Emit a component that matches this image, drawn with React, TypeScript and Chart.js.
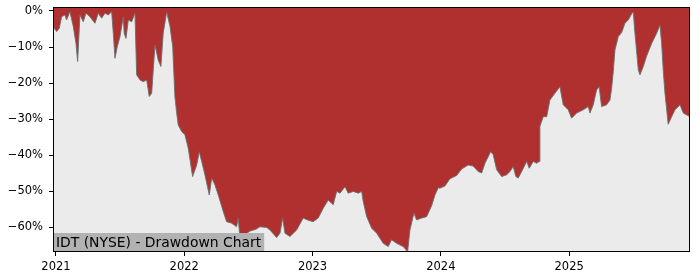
import React, { useEffect, useRef } from "react";
import { Chart, registerables } from "chart.js";
Chart.register(...registerables);

// x positions as decimal years
const years = [
  2020.977, 2021.005, 2021.026, 2021.044, 2021.070, 2021.083, 2021.109, 2021.135, 2021.156, 2021.169,
  2021.187, 2021.213, 2021.234, 2021.265, 2021.304, 2021.330, 2021.356, 2021.382, 2021.408, 2021.434,
  2021.447, 2021.460, 2021.478, 2021.499, 2021.525, 2021.532, 2021.546, 2021.564, 2021.590, 2021.616,
  2021.629, 2021.655, 2021.680, 2021.707, 2021.727, 2021.746, 2021.772, 2021.797, 2021.818, 2021.836,
  2021.863, 2021.889, 2021.910, 2021.927, 2021.941, 2021.953, 2021.980, 2022.005, 2022.031, 2022.065,
  2022.097, 2022.117, 2022.136, 2022.161, 2022.195, 2022.214, 2022.239, 2022.265, 2022.304, 2022.330,
  2022.369, 2022.408, 2022.421, 2022.434, 2022.460, 2022.512, 2022.559, 2022.590, 2022.642, 2022.668,
  2022.720, 2022.746, 2022.767, 2022.785, 2022.824, 2022.876, 2022.927, 2022.966, 2023.005, 2023.044,
  2023.083, 2023.122, 2023.161, 2023.188, 2023.214, 2023.253, 2023.278, 2023.317, 2023.356, 2023.383,
  2023.395, 2023.422, 2023.461, 2023.500, 2023.551, 2023.590, 2023.616, 2023.655, 2023.707, 2023.741,
  2023.759, 2023.790, 2023.811, 2023.850, 2023.889, 2023.928, 2023.954, 2023.980, 2023.993, 2024.032,
  2024.071, 2024.123, 2024.162, 2024.213, 2024.252, 2024.291, 2024.318, 2024.344, 2024.369, 2024.388,
  2024.408, 2024.435, 2024.474, 2024.513, 2024.539, 2024.564, 2024.585, 2024.603, 2024.630, 2024.669,
  2024.689, 2024.720, 2024.747, 2024.767, 2024.772, 2024.798, 2024.825, 2024.850, 2024.889, 2024.928,
  2024.954, 2024.993, 2025.019, 2025.058, 2025.110, 2025.149, 2025.162, 2025.188, 2025.214, 2025.234,
  2025.253, 2025.292, 2025.318, 2025.331, 2025.344, 2025.357, 2025.383, 2025.409, 2025.435, 2025.461,
  2025.487, 2025.500, 2025.513, 2025.539, 2025.552, 2025.578, 2025.604, 2025.643, 2025.682, 2025.708,
  2025.721, 2025.734, 2025.747, 2025.772, 2025.799, 2025.825, 2025.864, 2025.890, 2025.916, 2025.942,
];

// drawdown in percent
const drawdown = [
  -4.3, -5.7, -4.8, -1.6, -1.1, -2.5, -0.2, -4.3, -9.0, -14.0,
  -1.1, -3.0, -0.6, -1.6, -3.4, -0.6, -2.0, -0.6, -1.1, -0.2,
  -6.2, -13.1, -9.9, -7.1, -1.6, -6.2, -7.6, -2.5, -3.0, -0.6,
  -17.7, -19.1, -19.6, -19.1, -23.7, -22.8, -9.4, -13.6, -15.4, -6.2,
  -0.3, -4.3, -9.9, -23.7, -28.3, -31.6, -33.4, -34.3, -38.0, -45.9,
  -42.7, -39.0, -41.7, -45.4, -51.0, -46.3, -48.2, -51.0, -55.6, -58.4,
  -58.8, -59.8, -57.4, -63.0, -62.3, -61.0, -60.5, -59.8, -60.0, -60.7,
  -62.8, -61.6, -57.4, -61.6, -62.5, -60.7, -57.4, -58.0, -58.4, -57.4,
  -54.7, -52.4, -53.7, -50.0, -50.5, -48.7, -50.5, -50.0, -50.5, -50.0,
  -52.8, -57.0, -60.2, -61.6, -64.4, -65.3, -63.4, -64.4, -65.3, -66.7,
  -60.7, -56.0, -57.9, -57.4, -57.0, -54.0, -51.0, -49.0, -49.1, -48.5,
  -46.5, -45.6, -43.8, -42.7, -43.0, -44.5, -44.9, -42.2, -40.4, -39.0,
  -39.8, -44.0, -45.9, -45.4, -44.5, -43.1, -45.9, -46.3, -44.5, -41.7,
  -43.6, -41.7, -42.2, -41.7, -32.0, -29.3, -29.3, -24.7, -22.8, -21.0,
  -26.0, -27.4, -29.7, -28.3, -27.4, -26.5, -28.3, -26.0, -21.9, -21.0,
  -26.5, -26.0, -24.7, -21.4, -16.8, -10.8, -7.1, -6.0, -3.4, -2.5,
  -0.8, -0.3, -6.2, -16.3, -17.7, -15.4, -12.5, -9.0, -6.2, -3.9,
  -9.0, -16.8, -22.8, -31.4, -29.3, -27.4, -26.0, -28.3, -28.8, -29.3,
];

const yearTicks = [2021, 2022, 2023, 2024, 2025];
const pctTicks = [-60, -50, -40, -30, -20, -10, 0];
const title = "IDT (NYSE) - Drawdown Chart";

const FONT = "'DejaVu Sans', sans-serif";

export default function App() {
  const ref = useRef<HTMLCanvasElement>(null);
  useEffect(() => {
    const canvas = ref.current;
    if (!canvas) return;
    const decor = {
      id: "decor",
      beforeDraw(chart: any) {
        const { ctx, chartArea: a } = chart;
        ctx.save();
        ctx.fillStyle = "#ffffff";
        ctx.fillRect(0, 0, chart.width, chart.height);
        ctx.fillStyle = "#ebebeb";
        ctx.fillRect(a.left, a.top, a.right - a.left, a.bottom - a.top);
        ctx.restore();
      },
      afterDraw(chart: any) {
        const { ctx, chartArea: a } = chart;
        ctx.save();
        ctx.font = `13.9px ${FONT}`;
        const w = ctx.measureText(title).width;
        ctx.fillStyle = "#b2b2b2";
        ctx.fillRect(a.left, a.bottom - 19, w + 6, 19);
        ctx.fillStyle = "#000000";
        ctx.textBaseline = "middle";
        ctx.textAlign = "left";
        ctx.fillText(title, a.left + 3, a.bottom - 9);
        ctx.strokeStyle = "#000000";
        ctx.lineWidth = 1;
        ctx.strokeRect(a.left + 0.5, a.top + 0.5, a.right - a.left - 1, a.bottom - a.top - 1);
        ctx.restore();
      },
    };
    const chart = new Chart(canvas, {
      type: "line",
      data: {
        datasets: [
          {
            data: years.map((x, i) => ({ x, y: drawdown[i] })),
            borderColor: "rgba(110,110,110,0.9)",
            borderWidth: 1,
            backgroundColor: "#b03030",
            fill: "end",
            pointRadius: 0,
            tension: 0,
          },
        ],
      },
      options: {
        responsive: false,
        animation: false,
        events: [],
        layout: { padding: { top: 7, right: 10, left: 0, bottom: 0 } },
        plugins: { legend: { display: false }, tooltip: { enabled: false } },
        scales: {
          x: {
            type: "linear",
            min: years[0],
            max: years[years.length - 1],
            afterFit: (s: any) => { s.height = 28; s.paddingLeft = 0; s.paddingRight = 0; },
            afterBuildTicks: (s: any) => { s.ticks = yearTicks.map((v) => ({ value: v })); },
            border: { display: false },
            grid: { drawOnChartArea: false, drawTicks: true, tickLength: 4, tickColor: "#000", color: "#000" },
            ticks: {
              color: "#000",
              font: { family: FONT, size: 11.5 },
              padding: 4,
              maxRotation: 0,
              autoSkip: false,
              callback: (v: any) => String(v),
            },
          },
          y: {
            type: "linear",
            min: -66.8,
            max: 1.1,
            afterFit: (s: any) => { s.width = 53; s.paddingTop = 0; s.paddingBottom = 0; },
            afterBuildTicks: (s: any) => { s.ticks = pctTicks.map((v) => ({ value: v })); },
            border: { display: false },
            grid: { drawOnChartArea: false, drawTicks: true, tickLength: 4, tickColor: "#000", color: "#000" },
            ticks: {
              color: "#000",
              font: { family: FONT, size: 11.5 },
              padding: 6,
              autoSkip: false,
              callback: (v: any) => (v === 0 ? "0%" : "\u2212" + Math.abs(v) + "%"),
            },
          },
        },
      },
      plugins: [decor],
    });
    return () => chart.destroy();
  }, []);
  return (
    <div style={{ position: "absolute", left: 0, top: 0, width: 700, height: 280, background: "#fff" }}>
      <canvas ref={ref} width={700} height={280} style={{ display: "block" }} />
    </div>
  );
}
